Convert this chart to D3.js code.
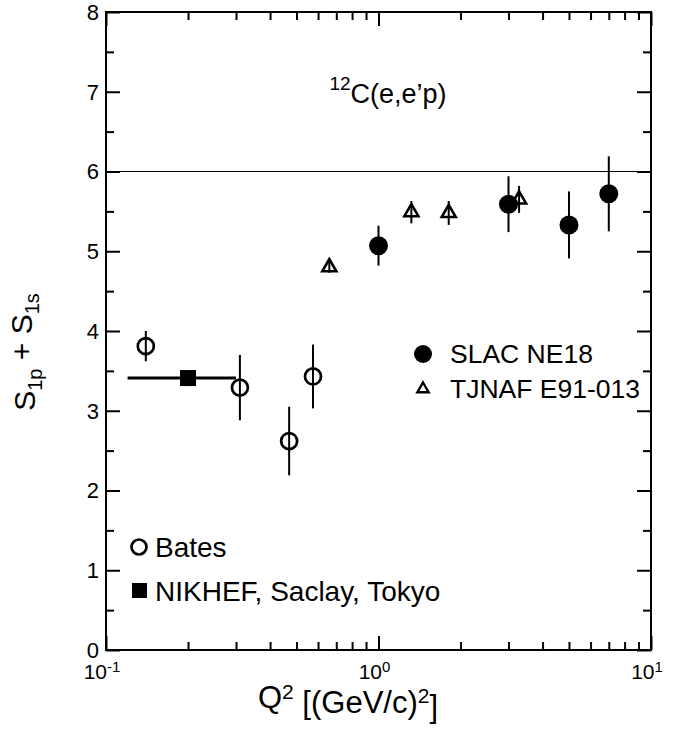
<!DOCTYPE html>
<html>
<head>
<meta charset="UTF-8">
<title>12C(e,e'p) spectroscopic factors</title>
<style>
  body { margin: 0; background: #fff; }
  text { font-family: "Liberation Sans", Arial, sans-serif; fill: #000; }
  .eje path { stroke: none; }
  .eje line { stroke: #000; stroke-width: 2px; }
  .barra { stroke: #000; stroke-width: 2px; }
</style>
<script src="https://cdn.jsdelivr.net/npm/d3@7"></script>
</head>
<body>
<script>
// datos
var bates_q2 = [0.14, 0.31, 0.47, 0.575];
var bates_s = [3.81, 3.29, 2.62, 3.43];
var bates_err = [0.19, 0.41, 0.43, 0.40];

var nikhef_q2 = [0.20];
var nikhef_s = [3.41];
var nikhef_err = [0.05];
var nikhef_min = [0.12];
var nikhef_max = [0.30];

var slac_q2 = [1.0, 3.0, 5.0, 7.0];
var slac_s = [5.07, 5.59, 5.33, 5.72];
var slac_err = [0.25, 0.35, 0.42, 0.47];

var tjnaf_q2 = [0.66, 1.32, 1.81, 3.28];
var tjnaf_s = [4.80, 5.49, 5.48, 5.65];
var tjnaf_err = [0.07, 0.14, 0.15, 0.17];

var y_ticks = [0, 1, 2, 3, 4, 5, 6, 7, 8];
var x_ticks = [0.1, 1, 10];
var x_exps = ["-1", "0", "1"];
var linea_ref = 6;

var ancho = 681, alto = 730;
var margen = {izq: 106, dch: 30, sup: 12, inf: 80};

var x = d3.scaleLog().domain([0.1, 10]).range([margen.izq, ancho - margen.dch]);
var y = d3.scaleLinear().domain([0, 8]).range([alto - margen.inf, margen.sup]);

var svg = d3.select("body").append("svg")
  .attr("width", ancho).attr("height", alto);

// marcas menores
var y_menores = d3.range(0.5, 8, 1);
var x_menores = [];
[0.1, 1].forEach(function(d) { for (var k = 2; k <= 9; k++) x_menores.push(d * k); });

function eje(gen, trans, ticks, size) {
  svg.append("g").attr("class", "eje").attr("transform", trans)
    .call(gen.tickValues(ticks).tickSize(size).tickFormat(""));
}
var x0 = margen.izq, x1 = ancho - margen.dch, y0 = alto - margen.inf, y1 = margen.sup;
eje(d3.axisLeft(y), "translate(" + x0 + ",0)", y_ticks, -14);
eje(d3.axisLeft(y), "translate(" + x0 + ",0)", y_menores, -8);
eje(d3.axisRight(y), "translate(" + x1 + ",0)", y_ticks, -14);
eje(d3.axisRight(y), "translate(" + x1 + ",0)", y_menores, -8);
eje(d3.axisBottom(x), "translate(0," + y0 + ")", x_ticks, -14);
eje(d3.axisBottom(x), "translate(0," + y0 + ")", x_menores, -8);
eje(d3.axisTop(x), "translate(0," + y1 + ")", x_ticks, -14);
eje(d3.axisTop(x), "translate(0," + y1 + ")", x_menores, -8);

// marco
svg.append("rect").attr("x", x0).attr("y", y1)
  .attr("width", x1 - x0).attr("height", y0 - y1)
  .attr("fill", "none").attr("stroke", "#000").attr("stroke-width", 2);

// etiquetas eje y
svg.selectAll(".ety").data(y_ticks).enter().append("text")
  .attr("x", x0 - 7).attr("y", function(d) { return y(d); })
  .attr("dy", "0.36em").attr("text-anchor", "end")
  .style("font-size", "22px").text(function(d) { return d; });

// etiquetas eje x
var etx = svg.selectAll(".etx").data(x_ticks).enter().append("text")
  .attr("x", function(d) { return x(d) - 4; }).attr("y", y0 + 29)
  .attr("text-anchor", "middle").style("font-size", "21px");
etx.append("tspan").text("10");
etx.append("tspan").attr("dy", "-0.45em").style("font-size", "15px")
  .text(function(d, i) { return x_exps[i]; });

// linea horizontal en 6
svg.append("line").attr("x1", x0).attr("x2", x1)
  .attr("y1", y(linea_ref)).attr("y2", y(linea_ref))
  .attr("stroke", "#000").attr("stroke-width", 1.2);

// titulos
var tx = svg.append("text").attr("x", 348).attr("y", alto - 22)
  .attr("text-anchor", "middle").style("font-size", "31px");
tx.append("tspan").text("Q");
tx.append("tspan").attr("dy", "-0.45em").style("font-size", "21px").text("2");
tx.append("tspan").attr("dy", "0.45em").text(" [(GeV/c)");
tx.append("tspan").attr("dy", "-0.45em").style("font-size", "21px").text("2");
tx.append("tspan").attr("dy", "0.45em").text("]");

var ty = svg.append("text").attr("transform", "translate(35," + 352 + ") rotate(-90)")
  .attr("text-anchor", "middle").style("font-size", "30px");
ty.append("tspan").text("S");
ty.append("tspan").attr("dy", "0.35em").style("font-size", "20px").text("1p");
ty.append("tspan").attr("dy", "-0.35em").text(" + S");
ty.append("tspan").attr("dy", "0.35em").style("font-size", "20px").text("1s");

var tt = svg.append("text").attr("x", 388).attr("y", 99)
  .attr("text-anchor", "middle").style("font-size", "27px");
tt.append("tspan").attr("dy", "-0.45em").style("font-size", "19px").text("12");
tt.append("tspan").attr("dy", "0.45em").text("C(e,e\u2019p)");

// datos en formato de filas
function filas(q, s, e) {
  return q.map(function(d, i) { return {q: d, s: s[i], e: e[i]}; });
}
var bates = filas(bates_q2, bates_s, bates_err);
var nikhef = filas(nikhef_q2, nikhef_s, nikhef_err);
var slac = filas(slac_q2, slac_s, slac_err);
var tjnaf = filas(tjnaf_q2, tjnaf_s, tjnaf_err);

function barras(datos) {
  svg.append("g").selectAll("line").data(datos).enter().append("line")
    .attr("class", "barra")
    .attr("x1", function(d) { return x(d.q); }).attr("x2", function(d) { return x(d.q); })
    .attr("y1", function(d) { return y(d.s - d.e); }).attr("y2", function(d) { return y(d.s + d.e); });
}

// NIKHEF: barra horizontal
svg.append("g").selectAll("line").data(nikhef).enter().append("line")
  .attr("stroke", "#000").attr("stroke-width", 3)
  .attr("x1", function(d, i) { return x(nikhef_min[i]); })
  .attr("x2", function(d, i) { return x(nikhef_max[i]); })
  .attr("y1", function(d) { return y(d.s); }).attr("y2", function(d) { return y(d.s); });
barras(nikhef);
svg.append("g").selectAll("rect").data(nikhef).enter().append("rect")
  .attr("x", function(d) { return x(d.q) - 8; }).attr("y", function(d) { return y(d.s) - 8; })
  .attr("width", 16).attr("height", 16).attr("fill", "#000");

// Bates
barras(bates);
svg.append("g").selectAll("circle").data(bates).enter().append("circle")
  .attr("cx", function(d) { return x(d.q); }).attr("cy", function(d) { return y(d.s); })
  .attr("r", 8).attr("fill", "none").attr("stroke", "#000").attr("stroke-width", 2.7);

// TJNAF
barras(tjnaf);
var tri = d3.symbol().type(d3.symbolTriangle).size(85);
svg.append("g").selectAll("path").data(tjnaf).enter().append("path")
  .attr("d", tri)
  .attr("transform", function(d) { return "translate(" + x(d.q) + "," + y(d.s) + ")"; })
  .attr("fill", "none").attr("stroke", "#000").attr("stroke-width", 2.6);

// SLAC
barras(slac);
svg.append("g").selectAll("circle").data(slac).enter().append("circle")
  .attr("cx", function(d) { return x(d.q); }).attr("cy", function(d) { return y(d.s); })
  .attr("r", 9.5).attr("fill", "#000");

// leyendas
var ley = svg.append("g").style("font-size", "26.5px");
ley.append("circle").attr("cx", 423).attr("cy", 354).attr("r", 9).attr("fill", "#000");
ley.append("text").attr("x", 450).attr("y", 363).text("SLAC NE18");
ley.append("path").attr("d", d3.symbol().type(d3.symbolTriangle).size(55))
  .attr("transform", "translate(423,389)").attr("fill", "none")
  .attr("stroke", "#000").attr("stroke-width", 2.4);
ley.append("text").attr("x", 450).attr("y", 398).text("TJNAF E91-013");

var ley2 = svg.append("g").style("font-size", "28px");
ley2.append("circle").attr("cx", 139).attr("cy", 547).attr("r", 7.5)
  .attr("fill", "none").attr("stroke", "#000").attr("stroke-width", 2.7);
ley2.append("text").attr("x", 155).attr("y", 557).text("Bates");
ley2.append("rect").attr("x", 132).attr("y", 583).attr("width", 15).attr("height", 15).attr("fill", "#000");
ley2.append("text").attr("x", 155).attr("y", 601).text("NIKHEF, Saclay, Tokyo");
</script>
</body>
</html>
